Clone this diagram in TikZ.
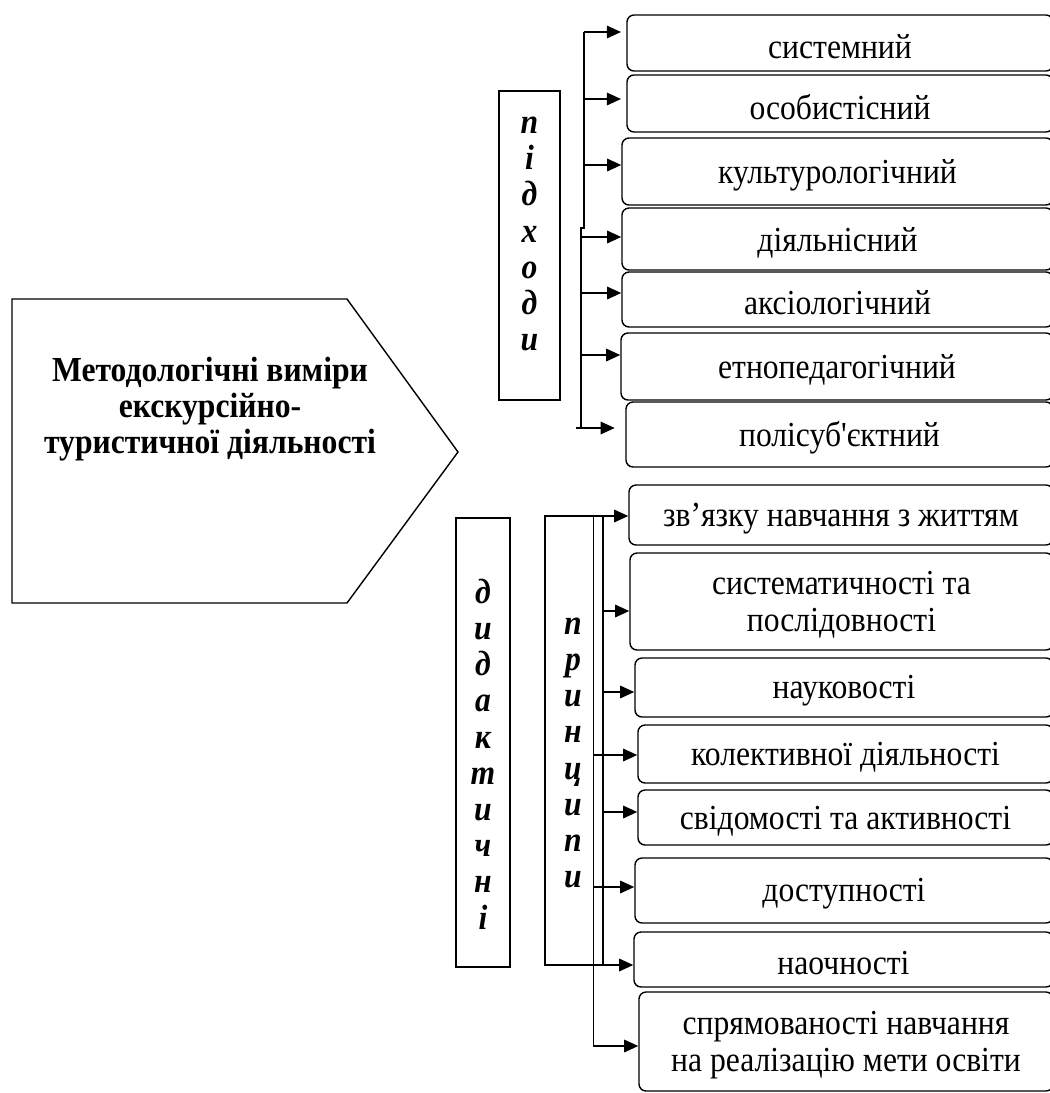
\documentclass[tikz,border=0pt]{standalone}
\usepackage{fontspec}
\setmainfont[FakeStretch=0.9]{Liberation Serif}
\usetikzlibrary{arrows.meta,fit}

\tikzset{
  item/.style={draw, line width=0.8pt, rounded corners=4pt, inner sep=0pt},
  itemtext/.style={align=center, inner sep=0pt, yshift=-2pt,
    font=\fontsize{20}{21}\selectfont},
  colbox/.style={draw, line width=0.8pt, inner sep=0pt},
  colword/.style={align=center, inner sep=0pt, font=\bfseries\itshape\fontsize{20}{20.6}\selectfont},
  arr/.style={line width=1.2pt, -{Triangle[length=8pt,width=7pt]}},
  bus/.style={line width=1.2pt}
}

\begin{document}
\begin{tikzpicture}[x=0.02cm,y=-0.02cm]
  \useasboundingbox (0,0) rectangle (1050,1093);

  % головний блок
  \draw[line width=0.8pt] (12,299) -- (347,299) -- (458,452) -- (347,603) -- (12,603) -- cycle;
  \node[align=center, font=\bfseries\fontsize{20}{20.7}\selectfont] (title) at (210,409)
    {Методологічні виміри\\екскурсійно-\\туристичної діяльності};

  % підходи
  \node[colbox, fit={(499,91) (560,400)}] (pidbox) {};
  \node[colword] (pidword) at (529.5,234) {п\\і\\д\\х\\о\\д\\и};

  \node[item, fit={(627,15) (1053,71)}, label={[itemtext]center:системний}] (a1) {};
  \node[item, fit={(627,75) (1053,132)}, label={[itemtext]center:особистісний}] (a2) {};
  \node[item, fit={(622,138) (1053,205)}, label={[itemtext]center:культурологічний}] (a3) {};
  \node[item, fit={(622,208) (1053,270)}, label={[itemtext]center:діяльнісний}] (a4) {};
  \node[item, fit={(622,272) (1053,327)}, label={[itemtext]center:аксіологічний}] (a5) {};
  \node[item, fit={(621,333) (1053,400)}, label={[itemtext]center:етнопедагогічний}] (a6) {};
  \node[item, fit={(626,402) (1053,467)},
        label={[itemtext]center:{\addfontfeature{Ligatures=TeXOff}полісуб'єктний}}] (a7) {};

  % стрілки до підходів
  \draw[bus] (584,32) -- (584,228) -- (581,228) -- (581,428);
  \foreach \i/\x/\y/\s in {1/584/32/3, 2/584/99/3, 3/584/165/0, 4/581/237/0,
                           5/581/293/0, 6/581/355/0, 7/576/428/6} {
    \coordinate (u\i) at (\x,\y);
    \draw[arr, shorten >=\s pt] (u\i) -- (u\i -| a\i.west);
  }

  % дидактичні принципи
  \node[colbox, fit={(456,518) (510,967)}] (didbox) {};
  \node[colword] (didword) at (483,754) {д\\и\\д\\а\\к\\т\\и\\ч\\н\\і};
  \node[colbox, line width=1.2pt, fit={(545,516) (603,965)}] (prbox) {};
  \node[colword] (prword) at (573,753) {п\\р\\и\\н\\ц\\и\\п\\и};

  \node[item, fit={(629,485) (1053,545)}, label={[itemtext]center:зв’язку навчання з життям}] (b1) {};
  \node[item, fit={(630,553) (1053,650)}, label={[itemtext]center:систематичності та\\послідовності}] (b2) {};
  \node[item, fit={(635,658) (1053,717)}, label={[itemtext]center:науковості}] (b3) {};
  \node[item, fit={(638,725) (1053,783)}, label={[itemtext]center:колективної діяльності}] (b4) {};
  \node[item, fit={(638,790) (1053,845)}, label={[itemtext]center:свідомості та активності}] (b5) {};
  \node[item, fit={(635,858) (1053,923)}, label={[itemtext]center:доступності}] (b6) {};
  \node[item, fit={(634,932) (1053,987)}, label={[itemtext]center:наочності}] (b7) {};
  \node[item, fit={(639,992) (1053,1091)}, label={[itemtext]center:спрямованості навчання\\на реалізацію мети освіти}] (b8) {};

  % стрілки до принципів
  \draw[line width=0.5pt] (593,516) -- (593,1046);
  \foreach \i/\x/\y in {1/603/516, 2/603/611, 3/603/692, 4/593/755,
                        5/603/812, 6/593/887, 7/603/965, 8/593/1046} {
    \coordinate (v\i) at (\x,\y);
    \draw[arr] (v\i) -- (v\i -| b\i.west);
  }
\end{tikzpicture}
\end{document}
